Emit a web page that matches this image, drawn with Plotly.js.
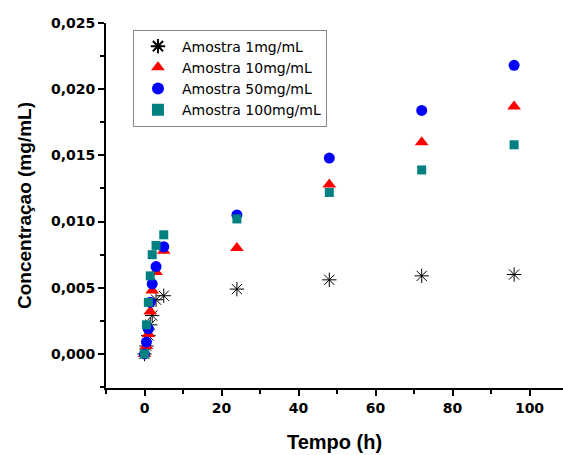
<!DOCTYPE html>
<html>
<head>
<meta charset="utf-8">
<script src="https://cdn.plot.ly/plotly-3.0.1.min.js"></script>
<style>html,body{margin:0;padding:0;background:#fff;}#chart{width:563px;height:455px;}</style>
</head>
<body>
<div id="chart"></div>
<script>
var tempo = [0, 0.5, 1, 1.5, 2, 3, 5, 24, 48, 72, 96];
var amostra1 = [0, 0.0006, 0.0014, 0.0022, 0.0029, 0.0041, 0.0044, 0.0049, 0.0056, 0.0059, 0.0060];
var amostra10 = [0, 0.0006, 0.0015, 0.0032, 0.0048, 0.0062, 0.0078, 0.0080, 0.0128, 0.0160, 0.0187];
var amostra50 = [0, 0.0009, 0.0019, 0.0039, 0.0053, 0.0066, 0.0081, 0.0105, 0.0148, 0.0184, 0.0218];
var amostra100 = [0, 0.0022, 0.0039, 0.0059, 0.0075, 0.0082, 0.0090, 0.0102, 0.0122, 0.0139, 0.0158];
var names = ['Amostra 1mg/mL', 'Amostra 10mg/mL', 'Amostra 50mg/mL', 'Amostra 100mg/mL'];

var traces = [
  {x: tempo, y: amostra1, name: names[0], mode: 'markers', type: 'scatter',
   marker: {symbol: 'asterisk-open', size: 12, color: '#000', line: {color: '#222', width: 1}}},
  {x: tempo, y: amostra10, name: names[1], mode: 'markers', type: 'scatter',
   marker: {symbol: 'triangle-up', size: 12, color: '#ff0000'}},
  {x: tempo, y: amostra50, name: names[2], mode: 'markers', type: 'scatter',
   marker: {symbol: 'circle', size: 11, color: '#0000ff'}},
  {x: tempo, y: amostra100, name: names[3], mode: 'markers', type: 'scatter',
   marker: {symbol: 'square', size: 9, color: '#008080'}}
];

var fam = 'Liberation Sans, Arial, sans-serif';
var wide = 'DejaVu Sans, sans-serif';
var tickFont = {family: wide, size: 14, color: '#000', weight: 'bold'};
var layout = {
  width: 563, height: 455,
  margin: {l: 106, r: 0, t: 23, b: 67},
  paper_bgcolor: '#fff', plot_bgcolor: '#fff',
  separators: ',.',
  showlegend: true,
  legend: {x: 0.059, y: 0.982, xanchor: 'left', yanchor: 'top',
    bordercolor: '#888', borderwidth: 1, bgcolor: '#fff',
    font: {family: wide, size: 14, color: '#000'},
    itemwidth: 38,
    tracegroupgap: 0, itemsizing: 'constant'},
  xaxis: {range: [-10, 108.7], tickvals: [0, 20, 40, 60, 80, 100], ticktext: ['0','20','40','60','80','100'],
    showgrid: false, zeroline: false, showline: true, linecolor: '#000', linewidth: 2,
    ticks: 'outside', ticklen: 6, tickwidth: 2, tickcolor: '#000',
    minor: {dtick: 10, tick0: 0, ticks: 'outside', ticklen: 4, tickwidth: 2, tickcolor: '#000', showgrid: false},
    tickfont: tickFont,
    title: {text: 'Tempo (h)', font: {family: fam, size: 20, color: '#000', weight: 'bold'}, standoff: 20}},
  yaxis: {range: [-0.00257, 0.025], tick0: 0, dtick: 0.005, tickformat: '.3f',
    showgrid: false, zeroline: false, showline: true, linecolor: '#000', linewidth: 2,
    ticks: 'outside', ticklen: 6, tickwidth: 2, tickcolor: '#000',
    minor: {dtick: 0.0025, tick0: 0, ticks: 'outside', ticklen: 4, tickwidth: 2, tickcolor: '#000', showgrid: false},
    tickfont: tickFont,
    title: {text: 'Concentraçao (mg/mL)', font: {family: fam, size: 19, color: '#000', weight: 'bold'}, standoff: 14}}
};
Plotly.newPlot('chart', traces, layout, {displayModeBar: false, staticPlot: true});
</script>
</body>
</html>
